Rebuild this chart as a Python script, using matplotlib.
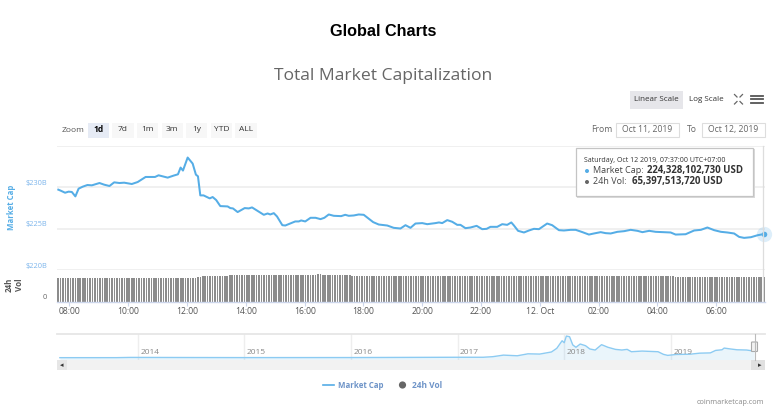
import matplotlib
matplotlib.use("Agg")
import matplotlib.pyplot as plt
from matplotlib.patches import Rectangle, Circle, FancyBboxPatch

W, H = 781, 419
plt.rcParams['font.family'] = ['Open Sans', 'DejaVu Sans']

cap_hours = [7.62,7.70,7.85,7.97,8.08,8.20,8.31,8.45,8.61,8.76,9.02,9.18,9.36,9.52,9.70,9.86,10.12,10.32,10.59,10.91,
11.03,11.34,11.54,11.69,11.78,11.86,12.02,12.19,12.30,12.37,12.45,12.56,12.77,12.87,12.99,13.13,13.38,13.47,13.56,13.72,
13.96,14.10,14.21,14.44,14.61,14.74,14.83,14.95,15.06,15.24,15.34,15.57,15.68,15.80,15.88,16.02,16.20,16.37,16.54,16.67,
16.82,16.99,17.24,17.38,17.50,17.67,17.84,18.01,18.33,18.52,18.81,19.03,19.26,19.43,19.60,19.77,20.00,20.17,20.45,20.57,
20.68,20.85,21.02,21.19,21.30,21.47,21.64,21.85,22.04,22.19,22.32,22.55,22.72,22.89,23.03,23.12,23.26,23.46,23.63,23.80,
23.97,24.25,24.42,24.65,24.82,25.05,25.22,25.45,25.67,25.84,26.07,26.24,26.41,26.64,26.87,27.09,27.32,27.49,27.72,27.94,
28.23,28.45,28.62,28.96,29.25,29.48,29.70,29.93,30.16,30.38,30.61,30.78,30.95,31.18,31.41,31.617]
cap_values = [229.68,229.56,229.31,229.44,229.40,228.87,229.80,230.04,230.24,230.20,230.48,230.28,230.12,230.56,230.48,230.52,230.36,230.60,231.21,231.21,
231.41,231.13,231.37,231.53,232.34,231.98,233.55,232.82,231.49,231.29,228.99,228.99,228.63,228.79,228.43,227.70,227.66,227.46,227.42,226.98,
227.46,227.42,227.54,227.02,226.65,226.81,226.69,226.85,226.45,225.40,225.36,225.69,225.85,225.85,225.97,225.85,226.29,226.29,226.13,226.29,
226.69,226.53,226.49,226.65,226.53,226.57,226.69,226.65,225.77,225.48,225.36,225.08,225.00,225.40,225.08,225.60,225.65,225.52,225.65,225.73,
225.65,226.01,225.81,225.44,225.44,225.04,225.12,225.32,224.92,224.96,225.20,225.20,225.52,225.44,225.73,225.36,224.72,224.52,224.76,224.96,
224.92,225.60,225.40,224.80,224.76,224.84,224.84,224.56,224.27,224.40,224.56,224.44,224.40,224.60,224.68,224.84,224.72,224.56,224.72,224.60,
224.56,224.52,224.27,224.31,224.76,224.84,225.12,224.80,224.60,224.52,224.40,223.99,223.87,223.95,224.19,224.33]

# 24h volume in $B, one bar every five minutes (one row per hour)
volume = [
62.8,62.8,62.8,62.8,62.8,62.8,62.8,62.8,62.8,62.8,62.8,62.8,
62.8,62.8,62.8,62.8,62.8,62.8,62.8,62.8,62.8,62.8,62.8,62.8,
62.8,62.8,62.8,62.8,62.8,62.8,62.8,62.8,62.8,62.8,62.8,62.8,
62.8,62.8,62.8,62.8,62.8,62.8,62.8,62.8,62.8,62.8,62.8,62.8,
62.8,62.8,62.8,62.6,62.2,63.0,63.4,63.6,64.0,65.0,66.0,67.2,
67.3,67.3,67.3,67.3,67.3,67.4,67.4,67.4,67.6,68.6,69.6,70.0,
70.0,70.0,70.0,70.0,70.0,70.0,70.0,70.0,70.0,70.0,70.0,70.0,
70.0,70.0,70.0,70.0,70.0,70.0,70.0,70.0,70.0,70.0,70.0,70.0,
70.0,70.0,70.0,70.0,70.0,70.0,70.5,70.8,71.0,71.5,72.6,72.6,
71.0,70.0,70.0,70.0,70.0,70.0,70.0,70.0,70.0,70.0,70.0,70.0,
69.0,67.5,67.3,67.3,67.3,67.3,67.3,67.3,67.3,67.3,67.3,67.3,
67.3,67.3,67.3,67.3,67.3,67.3,67.3,67.3,67.3,67.3,67.3,67.3,
67.3,67.3,67.3,67.3,67.3,67.3,67.3,67.3,67.3,67.3,67.3,67.3,
67.3,67.3,67.3,67.3,67.3,67.3,67.3,67.3,67.3,67.3,67.3,67.3,
67.3,67.3,67.3,67.3,67.3,67.3,67.5,67.5,67.3,67.3,67.3,67.3,
67.3,67.3,67.3,67.3,67.3,67.3,67.3,67.3,67.3,67.3,67.3,67.3,
67.3,67.3,67.3,67.3,67.3,67.3,67.3,67.3,67.6,67.6,67.3,67.3,
68.0,68.6,68.4,68.0,67.3,67.3,67.3,67.3,67.3,67.3,67.3,67.3,
67.3,67.3,67.3,67.3,67.3,67.3,67.3,67.3,67.3,67.3,67.3,67.3,
67.0,67.0,67.0,67.0,67.0,67.0,67.0,67.0,67.0,67.0,67.0,67.0,
67.0,67.0,67.0,67.0,67.0,67.0,67.0,67.0,67.0,67.0,67.0,67.0,
66.6,66.6,66.6,66.6,66.6,66.6,66.6,66.6,66.6,66.6,66.6,66.6,
66.4,66.4,66.4,66.4,66.4,66.4,66.4,66.4,66.4,66.4,66.4,66.4,
66.0,66.0,66.0,66.0,66.0,66.0,66.0,66.0,66.0,66.0,66.0,65.4,
65.4]
vol_hours = [7.617 + i * (1 / 12) for i in range(len(volume))]

nav_years = [2013.27,2013.8,2013.93,2014.5,2015.0,2016.0,2017.0,2017.24,2017.33,2017.43,2017.56,2017.66,2017.77,2017.88,2017.93,2017.98,
2018.0,2018.02,2018.05,2018.08,2018.11,2018.15,2018.2,2018.24,2018.29,2018.35,2018.41,2018.48,2018.54,2018.59,2018.63,2018.73,
2018.88,2018.93,2018.97,2019.05,2019.18,2019.27,2019.37,2019.42,2019.48,2019.5,2019.56,2019.62,2019.71,2019.78]
nav_values = [2,3,12,8,5,7,18,18,40,100,75,150,140,220,360,650,575,830,805,490,400,525,460,335,295,500,400,320,295,320,230,255,
230,130,90,125,135,175,185,280,305,370,335,305,295,255]

hour_ticks = [8,10,12,14,16,18,20,22,24,26,28,30]
hour_labels = ['08:00','10:00','12:00','14:00','16:00','18:00','20:00','22:00','12. Oct','02:00','04:00','06:00']
year_ticks = [2014,2015,2016,2017,2018,2019]
cap_ticks = [220,225,230]
cap_labels = ['$220B','$225B','$230B']
zoom_labels = ['1d','7d','1m','3m','1y','YTD','ALL']

BLUE = '#55ADE6'
GRID = '#EEEEEE'
X0, X1 = 57, 764.7
HMIN, HMAX = 7.575, 31.65

fig = plt.figure(figsize=(W / 100, H / 100), dpi=100, facecolor='white')

def axes_px(x0, y0, x1, y1, **kw):
    return fig.add_axes([x0 / W, 1 - y1 / H, (x1 - x0) / W, (y1 - y0) / H], **kw)

def clean(ax):
    for s in ax.spines.values():
        s.set_visible(False)
    ax.set_facecolor('none')

# main pane
ax = axes_px(X0, 146, X1, 270)
clean(ax)
ax.set_xlim(HMIN, HMAX)
ax.set_ylim(220, 234.94)
ax.set_xticks([])
ax.set_yticks(cap_ticks + [234.94])
ax.set_yticklabels([])
ax.tick_params(length=0)
ax.grid(axis='y', color=GRID, lw=1.2)
ax.set_axisbelow(True)
ax.plot(cap_hours, cap_values, color=BLUE, lw=1.45, solid_joinstyle='round', clip_on=False, zorder=3)
ax.plot([cap_hours[-1]], [cap_values[-1]], 'o', ms=11, color=BLUE, alpha=0.2, mew=0, clip_on=False, zorder=3)
ax.plot([cap_hours[-1]], [cap_values[-1]], 'o', ms=4, color=BLUE, mew=0, clip_on=False, zorder=4)

# volume pane
av = axes_px(X0, 270, X1, 301.5)
clean(av)
av.set_xlim(HMIN, HMAX)
av.set_ylim(0, 84)
av.bar(vol_hours, volume, width=0.66 / 12, color='#8C8C8C', align='center', linewidth=0)
av.set_yticks([])
av.set_xticks(hour_ticks)
av.set_xticklabels(hour_labels, fontsize=6.2, color='#555555')
av.tick_params(axis='x', length=3, width=0.8, color='#CCD6EB', pad=1)
av.spines['bottom'].set_visible(True)
av.spines['bottom'].set_color('#CCD6EB')
av.spines['bottom'].set_linewidth(1)

# navigator
an = axes_px(X0, 334, X1, 360)
clean(an)
an.set_xlim(2013.243, 2019.88)
an.set_ylim(-87, 909)
an.plot(nav_years, nav_values, color='#8CCBF2', lw=1)
an.fill_between(nav_years, nav_values, -87, color=BLUE, alpha=0.12, linewidth=0)
an.set_xticks(year_ticks)
an.set_xticklabels([])
an.set_yticks([])
an.tick_params(length=0)
an.grid(axis='x', color=GRID, lw=1)
an.set_axisbelow(True)
an.spines['top'].set_visible(True)
an.spines['top'].set_color('#E6E6E6')
an.spines['top'].set_linewidth(1.3)
for yr in year_ticks:
    an.annotate(str(yr), (yr, 0), xycoords=('data', 'axes fraction'), xytext=(2.5, 3.5),
                textcoords='offset pixels', fontsize=6, color='#888888', va='bottom')

# overlay in pixel coordinates for the page furniture
ov = fig.add_axes([0, 0, 1, 1])
ov.set_xlim(0, W)
ov.set_ylim(H, 0)
ov.axis('off')
ov.set_zorder(5)

def t(x, y, s, size=6.2, color='#555555', ha='left', weight='normal', **kw):
    return ov.text(x, y, s, fontsize=size, color=color, ha=ha, va='center', fontweight=weight, **kw)

t(383, 32, 'Global Charts', size=11.7, color='black', ha='center', weight='bold', family='Liberation Sans')
t(383.5, 76, 'Total Market Capitalization', size=12.6, color='#666666', ha='center', family='Open Sans')

for lab, yy in zip(cap_labels, [266, 224.5, 183.5]):
    t(47, yy, lab, size=5.3, color='#7CB5EC', ha='right')
t(47, 297.5, '0', size=5.4, color='#666666', ha='right')
t(11.5, 207.5, 'Market Cap', size=5.6, color=BLUE, ha='center', weight='bold', rotation=90)
t(14.5, 285, '24h\nVol', size=5.8, color='#555555', ha='center', weight='bold', rotation=90, linespacing=1.25)

# zoom buttons
t(61.5, 130, 'Zoom', size=6, color='#555555')
for i, lab in enumerate(zoom_labels):
    bx = 87.7 + i * 24.6
    on = i == 0
    ov.add_patch(Rectangle((bx, 123), 21.3, 14.5, fc='#E6EBF5' if on else '#F7F7F7', ec='none'))
    t(bx + 10.6, 129.5, lab, size=6, color='black' if on else '#333333', ha='center', weight='bold' if on else 'normal')

# scale buttons
ov.add_patch(Rectangle((630, 91), 52.5, 18.5, fc='#E6E6EA', ec='none'))
t(656, 99.5, 'Linear Scale', size=5.8, color='#333333', ha='center')
t(706.5, 99.5, 'Log Scale', size=5.8, color='#333333', ha='center')
for y0, y1, x0, x1 in [(94.5, 97, 734.5, 737), (94.5, 97, 742.5, 740), (104, 101.5, 734.5, 737), (104, 101.5, 742.5, 740)]:
    ov.plot([x0, x1], [y0, y1], color='#666666', lw=0.9)
for yy in [96, 99.5, 103]:
    ov.plot([751, 763], [yy, yy], color='#555555', lw=1.3)

# date range
t(591, 129.5, 'From', size=6.2, color='#666666')
t(686.5, 129.5, 'To', size=6.2, color='#666666')
for x0, x1, lab in [(616, 678.5, 'Oct 11, 2019'), (702, 764.5, 'Oct 12, 2019')]:
    ov.add_patch(Rectangle((x0, 123), x1 - x0, 14, fc='white', ec='#DDDDDD', lw=0.8))
    t((x0 + x1) / 2, 129, lab, size=6.2, color='#666666', ha='center')

# crosshair
ov.plot([762.7, 762.7], [146, 301], color='#DDDDDD', lw=0.9, zorder=1)

# tooltip
ov.add_patch(Rectangle((577, 149), 177.5, 48.5, fc='#DADADA', ec='none', zorder=6))
ov.add_patch(Rectangle((575.7, 147.7), 177.5, 48.5, fc='white', ec='#C4C4C4', lw=0.9, zorder=7))
t(583.5, 160.5, 'Saturday, Oct 12 2019, 07:37:00 UTC+07:00', size=5.0, color='#333333', zorder=8)
ov.add_patch(Circle((587, 171), 2, fc=BLUE, ec='none', zorder=8))
t(593, 170.5, 'Market Cap:', size=6.5, color='#444444', zorder=8)
t(647, 170.5, '224,328,102,730 USD', size=6.9, color='#333333', weight='bold', zorder=8)
ov.add_patch(Circle((587, 182), 2, fc='#666666', ec='none', zorder=8))
t(593, 181.5, '24h Vol:', size=6.5, color='#444444', zorder=8)
t(631.5, 181.5, '65,397,513,720 USD', size=6.9, color='#333333', weight='bold', zorder=8)

# scrollbar
ov.add_patch(Rectangle((X0, 360), X1 - X0, 10, fc='#F2F2F2', ec='none'))
ov.add_patch(Rectangle((X0, 360), 9.5, 10, fc='#E6E6E6', ec='none'))
ov.add_patch(Rectangle((751, 360), 13.7, 10, fc='#E0E0E0', ec='none'))
ov.text(61.5, 365.5, '\u25C2', fontsize=5, color='#333333', ha='center', va='center', family='DejaVu Sans')
ov.text(760, 365.5, '\u25B8', fontsize=5, color='#333333', ha='center', va='center', family='DejaVu Sans')
ov.plot([754.5, 754.5], [334, 360], color='#BBBBBB', lw=0.8)
ov.add_patch(FancyBboxPatch((752, 342.5), 5, 8.5, boxstyle='round,pad=0.5', fc='#F2F2F2', ec='#AAAAAA', lw=0.8))

# legend
ov.plot([323, 334], [385, 385], color=BLUE, lw=1.2)
t(338, 385, 'Market Cap', size=5.7, color='#6E94C8', weight='bold')
ov.add_patch(Circle((402.5, 385), 3.6, fc='#666666', ec='none'))
t(411.5, 385, '24h Vol', size=6.0, color='#6E94C8', weight='bold')
t(764.5, 402, 'coinmarketcap.com', size=5.2, color='#888888', ha='right')

fig.savefig('out.png', dpi=100, facecolor='white')
